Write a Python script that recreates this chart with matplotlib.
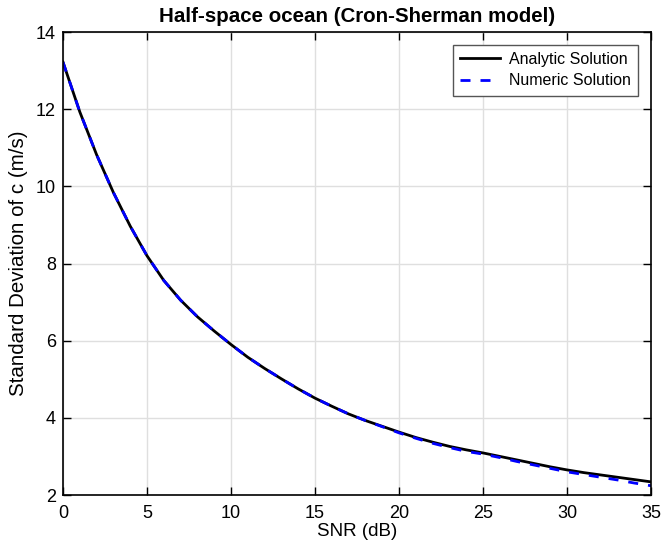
#!/usr/bin/env python3
"""
plot.py

Standard deviation of c versus SNR for the half-space ocean model.
"""

import matplotlib
matplotlib.use('Agg')
import matplotlib.pyplot as plt

plt.rcParams['font.family'] = ['Liberation Sans', 'DejaVu Sans']

# Values.
snr_db = list(range(0, 36))
analytic = [13.22, 11.93, 10.82, 9.84, 8.97, 8.2, 7.56, 7.05, 6.62, 6.25,
            5.9, 5.57, 5.28, 5.01, 4.75, 4.51, 4.3, 4.1, 3.93, 3.78,
            3.63, 3.49, 3.37, 3.26, 3.17, 3.09, 3.0, 2.91, 2.82, 2.73,
            2.65, 2.58, 2.52, 2.46, 2.40, 2.34]
numeric = [13.22, 11.93, 10.82, 9.84, 8.97, 8.2, 7.56, 7.05, 6.62, 6.25,
           5.9, 5.57, 5.28, 5.01, 4.75, 4.51, 4.3, 4.1, 3.93, 3.77,
           3.61, 3.47, 3.34, 3.23, 3.13, 3.06, 2.97, 2.87, 2.78, 2.69,
           2.60, 2.53, 2.46, 2.39, 2.31, 2.24]

fig = plt.figure(figsize=(6.61, 5.5), dpi=100)
ax = fig.add_axes([0.0953, 0.1, 0.8897, 0.8418])

ax.plot(snr_db, analytic, '-', color='black', lw=2, label='Analytic Solution')
ax.plot(snr_db, numeric, '--', color='blue', lw=2, dashes=(3.6, 3.6),
        label='Numeric Solution')

ax.set_xlim(0, 35)
ax.set_ylim(2, 14)
ax.set_xticks(range(0, 36, 5))
ax.set_yticks(range(2, 15, 2))
ax.tick_params(direction='in', length=6, width=1, top=True, right=True,
               labelsize=13)
ax.tick_params(axis='x', pad=7)
ax.tick_params(axis='y', pad=5)
ax.grid(True, color='#dfdfdf', lw=1)
ax.set_axisbelow(True)
for sp in ax.spines.values():
    sp.set_linewidth(1.2)

ax.set_title('Half-space ocean (Cron-Sherman model)', fontsize=14.8,
             fontweight='bold', pad=7)
ax.set_xlabel('SNR (dB)', fontsize=13.5, labelpad=1)
ax.set_ylabel('Standard Deviation of c (m/s)', fontsize=14.8, labelpad=6)

leg = ax.legend(loc='upper right', fontsize=11.5, fancybox=False,
                edgecolor='#555555', framealpha=1, borderaxespad=0.8,
                handlelength=2.5, handletextpad=0.6, borderpad=0.45,
                labelspacing=0.4)
leg.get_frame().set_linewidth(1)

fig.savefig('out.png', dpi=100)
